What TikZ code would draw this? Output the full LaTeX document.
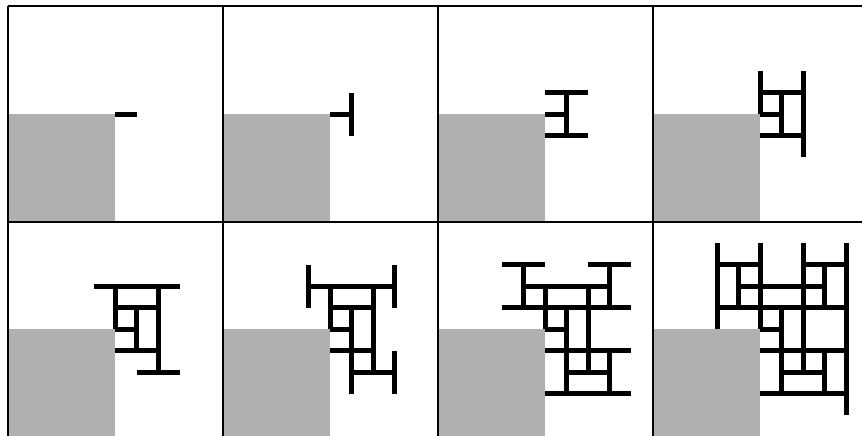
\documentclass[tikz,border=0pt]{standalone}
\definecolor{sqgray}{gray}{0.69}
\tikzset{
  treeseg/.style={line width=5pt, black, line cap=butt},
  cellline/.style={line width=2pt, black},
  greysq/.style={fill=sqgray}
}
\newcommand\drawlevels[1]{%
  \ifnum#1>0\relax \draw[treeseg] (0,0)--(1,0);\fi
  \ifnum#1>1\relax \draw[treeseg] (1,-1)--(1,1);\fi
  \ifnum#1>2\relax \draw[treeseg] (0,1)--(2,1) (0,-1)--(2,-1);\fi
  \ifnum#1>3\relax \draw[treeseg] (0,0)--(0,2) (2,-2)--(2,2);\fi
  \ifnum#1>4\relax \draw[treeseg] (-1,2)--(3,2) (1,-2)--(3,-2);\fi
  \ifnum#1>5\relax \draw[treeseg] (-1,1)--(-1,3) (3,1)--(3,3) (1,-1)--(1,-3) (3,-1)--(3,-3);\fi
  \ifnum#1>6\relax \draw[treeseg] (-2,3)--(0,3) (2,3)--(4,3) (-2,1)--(0,1) (2,1)--(4,1) (2,-1)--(4,-1) (0,-3)--(4,-3);\fi
  \ifnum#1>7\relax \draw[treeseg] (-2,0)--(-2,4) (0,2)--(0,4) (2,2)--(2,4) (4,-4)--(4,4);\fi
}
\begin{document}
\begin{tikzpicture}[x=1pt,y=-1pt]
\useasboundingbox (0,0) rectangle (862,436);
\fill[white] (0,0) rectangle (862,436);
\clip (0,0) rectangle (862,436);
\foreach \k in {1,...,8} {
  \pgfmathtruncatemacro\col{mod(\k-1,4)}
  \pgfmathtruncatemacro\row{int((\k-1)/4)}
  \begin{scope}[shift={(7.5+215*\col, 6.5+215*\row)}]
    \fill[greysq] (0,107.5) rectangle (107.5,215);
    \begin{scope}[shift={(107.5,107.5)}, x=21.5pt, y=21.5pt]
      \drawlevels{\k}
    \end{scope}
  \end{scope}
}
\foreach \x in {7.5,222.5,437.5,652.5,867.5} {
  \draw[cellline] (\x,6.5) -- (\x,436.5);
}
\foreach \y in {6.5,221.5,436.5} {
  \draw[cellline] (7.5,\y) -- (867.5,\y);
}
\end{tikzpicture}
\end{document}
